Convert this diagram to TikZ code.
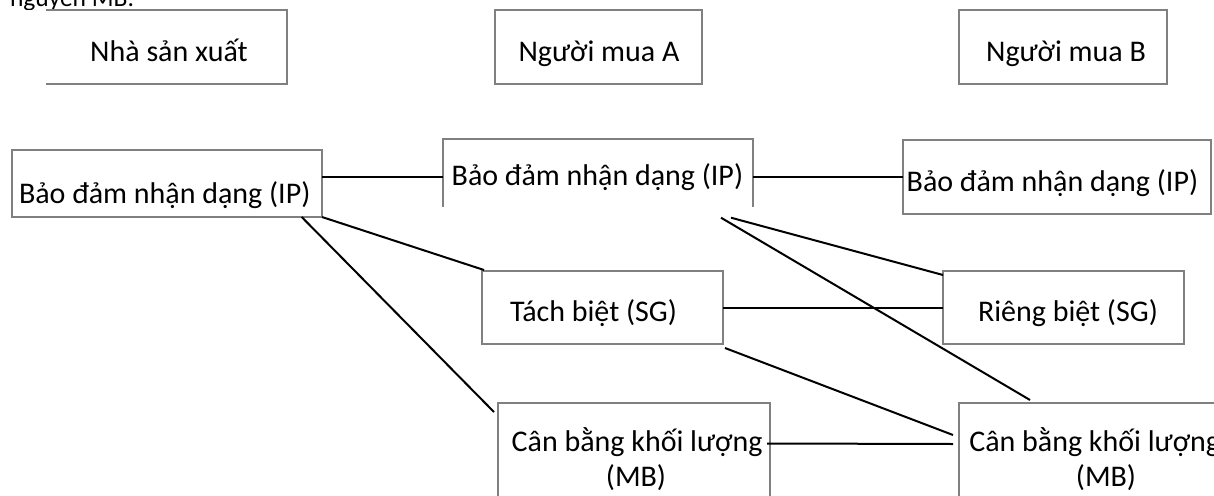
\documentclass[tikz,border=0pt]{standalone}
\usepackage{fontspec}
\setmainfont{Carlito}
\usetikzlibrary{calc}
\definecolor{bordergray}{RGB}{128,128,128}
\begin{document}
\begin{tikzpicture}[x=1pt,y=-1pt,
  box/.style={draw=bordergray, line width=1.2pt, fill=white, rectangle, inner sep=0pt, outer sep=0pt},
  openbox/.style={draw=none, fill=white, rectangle, inner sep=0pt, outer sep=0pt},
  side/.style={draw=bordergray, line width=1.2pt},
  txt/.style={inner sep=0pt, outer sep=0pt, font=\fontsize{30}{34.5}\selectfont},
  link/.style={draw=black, line width=2pt}]
\useasboundingbox (0,0) rectangle (1214,495);
\clip (0,0) rectangle (1214,495);
\fill[white] (0,0) rectangle (1214,495);
% text cut at the top edge
\begin{scope}
  \clip (0,0) rectangle (1214,10);
  \node[inner sep=0pt, outer sep=0pt, font=\fontsize{25.5}{30}\selectfont, anchor=base west] (cut) at (10,7) {nguyên MB.};
\end{scope}
% column headers
\node[openbox, minimum width=241, minimum height=74] (prod) at (166.5,47) {};
\draw[side] (prod.north west) -- (prod.north east) -- (prod.south east) -- (prod.south west);
\node[box, minimum width=207, minimum height=74] (buyA) at (598.5,47) {};
\node[box, minimum width=208, minimum height=74] (buyB) at (1063,47) {};
% IP boxes
\node[box, minimum width=310, minimum height=67] (ipL) at (167,183.5) {};
\node[openbox, minimum width=310, minimum height=68] (ipM) at (598,173) {};
\draw[side] (ipM.south west) -- (ipM.north west) -- (ipM.north east) -- (ipM.south east);
\node[box, minimum width=308, minimum height=74] (ipR) at (1057,177) {};
% SG boxes
\node[box, minimum width=241, minimum height=73] (sep) at (602.5,307.5) {};
\node[box, minimum width=241, minimum height=73] (rieng) at (1063.5,307.5) {};
% MB boxes
\node[box, minimum width=272, minimum height=100] (mbM) at (634,453) {};
\node[box, minimum width=272, minimum height=100] (mbR) at (1095,453) {};
% texts
\node[txt, anchor=base] (tprod) at (169,62) {Nhà sản xuất};
\node[txt, anchor=base] (tbuyA) at (599,62) {Người mua A};
\node[txt, anchor=base] (tbuyB) at (1066,62) {Người mua B};
\node[txt, anchor=base west] (tipL) at (19,203) {Bảo đảm nhận dạng (IP)};
\node[txt, anchor=base west] (tipM) at (451.7,185) {Bảo đảm nhận dạng (IP)};
\node[txt, anchor=base west] (tipR) at (906.7,191.7) {Bảo đảm nhận dạng (IP)};
\node[txt, anchor=base west] (tsep) at (510,321.7) {Tách biệt (SG)};
\node[txt, anchor=base west] (trieng) at (978,321.7) {Riêng biệt (SG)};
\node[txt, anchor=base west] (tmbM) at (511.7,451.7) {Cân bằng khối lượng};
\node[txt, anchor=base] (tmbM2) at (636,486) {(MB)};
\node[txt, anchor=base west] (tmbR) at (969.3,451.7) {Cân bằng khối lượng};
\node[txt, anchor=base] (tmbR2) at (1106,486) {(MB)};
% connectors
\draw[link] ($(ipL.north east)+(0,26.7)$) -- ($(ipM.north west)+(0,37.7)$);
\draw[link] ($(ipM.north east)+(0,37.7)$) -- ($(ipR.north west)+(0,36.7)$);
\draw[link] (ipL.south east) -- ($(sep.north west)+(2,-1)$);
\draw[link] ($(ipL.south east)+(-20.3,0)$) -- ($(mbM.north west)+(-4,9)$);
\draw[link] ($(ipM.south east)+(-22,10.7)$) -- ($(rieng.north west)+(0,4)$);
\draw[link] ($(ipM.south east)+(-32,10.7)$) -- ($(mbR.north west)+(71,-3)$);
\draw[link] (sep.east) -- (rieng.west);
\draw[link] ($(sep.south east)+(2,4)$) -- ($(mbR.north west)+(-6,32)$);
\draw[link] ($(mbM.north east)+(-3,40.5)$) -- ($(mbR.north west)+(-6,41)$);
\end{tikzpicture}
\end{document}
